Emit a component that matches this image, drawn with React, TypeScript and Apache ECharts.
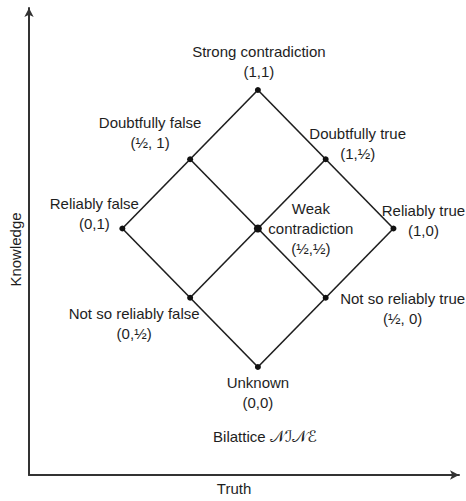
import React, { useEffect, useRef } from "react";
import * as echarts from "echarts";

// Bilattice NINE: each element is a pair (first, second)
const nodeNames = [
  "Strong contradiction",
  "Doubtfully false",
  "Doubtfully true",
  "Reliably false",
  "Weak\ncontradiction",
  "Reliably true",
  "Not so reliably false",
  "Not so reliably true",
  "Unknown",
];
const firstValues = [1, 0.5, 1, 0, 0.5, 1, 0, 0.5, 0];
const secondValues = [1, 1, 0.5, 1, 0.5, 0, 0.5, 0, 0];
const pairLabels = ["(1,1)", "(½, 1)", "(1,½)", "(0,1)", "(½,½)", "(1,0)", "(0,½)", "(½, 0)", "(0,0)"];

const xAxisName = "Truth";
const yAxisName = "Knowledge";
const caption = "Bilattice ";
const captionScript = "𝒩ℐ𝒩ℰ";

// layout only: label block offsets (px) from each node
const labelOffsets: [number, number][] = [
  [1, -29],
  [-40, -27],
  [32, -16],
  [-28, -15],
  [53, 0],
  [30, -8],
  [-56, 26],
  [77, 11],
  [0, 26],
];

const FONT = "'Liberation Sans', Arial, sans-serif";
const INK = "#1e1e1e";

export default function App() {
  const ref = useRef<HTMLDivElement>(null);
  useEffect(() => {
    if (!ref.current) return;
    const chart = echarts.init(ref.current, undefined, { renderer: "svg" });

    const nodes = nodeNames.map((name, i) => ({
      name: pairLabels[i],
      value: [firstValues[i] - secondValues[i], firstValues[i] + secondValues[i]],
      symbolSize: i === 4 ? 8 : 6,
      label: {
        show: true,
        position: "inside",
        offset: labelOffsets[i],
        formatter: name + "\n" + pairLabels[i],
      },
    }));
    const links: { source: number; target: number }[] = [];
    for (let i = 0; i < nodes.length; i++) {
      for (let j = i + 1; j < nodes.length; j++) {
        const d1 = Math.abs(firstValues[i] - firstValues[j]);
        const d2 = Math.abs(secondValues[i] - secondValues[j]);
        if ((d1 === 0.5 && d2 === 0) || (d1 === 0 && d2 === 0.5)) links.push({ source: i, target: j });
      }
    }

    chart.setOption({
      animation: false,
      backgroundColor: "#ffffff",
      grid: { left: 26, right: 7, top: 8, bottom: 26 },
      xAxis: {
        type: "value",
        min: -1.6886,
        max: 1.4835,
        name: xAxisName,
        nameLocation: "middle",
        nameGap: 6,
        nameTextStyle: { color: INK, fontSize: 15, fontFamily: FONT, verticalAlign: "top", padding: [0, 20, 0, 0] },
        axisLine: { show: true, onZero: false, symbol: ["none", "arrow"], symbolSize: [7, 9], lineStyle: { color: "#333", width: 2 } },
        axisTick: { show: false },
        axisLabel: { show: false },
        splitLine: { show: false },
      },
      yAxis: {
        type: "value",
        min: -0.7798,
        max: 2.5921,
        name: yAxisName,
        nameLocation: "middle",
        nameRotate: 90,
        nameGap: 6,
        nameTextStyle: { color: INK, fontSize: 15, fontFamily: FONT, padding: [0, 16, 0, 0] },
        axisLine: { show: true, onZero: false, symbol: ["none", "arrow"], symbolSize: [7, 9], lineStyle: { color: "#333", width: 2 } },
        axisTick: { show: false },
        axisLabel: { show: false },
        splitLine: { show: false },
      },
      graphic: [
        {
          type: "text",
          x: 265,
          y: 436,
          style: {
            text: "{a|" + caption + "}{b|" + captionScript + "}",
            align: "center",
            verticalAlign: "middle",
            rich: {
              a: { fontSize: 15, fontFamily: FONT, fill: INK },
              b: { fontSize: 16, fontFamily: "'DejaVu Sans', serif", fill: INK },
            },
          } as any,
        },
      ],
      series: [
        {
          type: "graph",
          coordinateSystem: "cartesian2d",
          layout: "none",
          symbol: "circle",
          itemStyle: { color: "#111" },
          lineStyle: { color: INK, width: 1.6, opacity: 1, curveness: 0 },
          label: { color: INK, fontSize: 15, fontFamily: FONT, lineHeight: 20 },
          emphasis: { disabled: true },
          silent: true,
          data: nodes,
          links,
        },
      ],
    });
    return () => chart.dispose();
  }, []);
  return <div ref={ref} style={{ position: "fixed", left: 0, top: 0, width: 466, height: 501 }} />;
}
